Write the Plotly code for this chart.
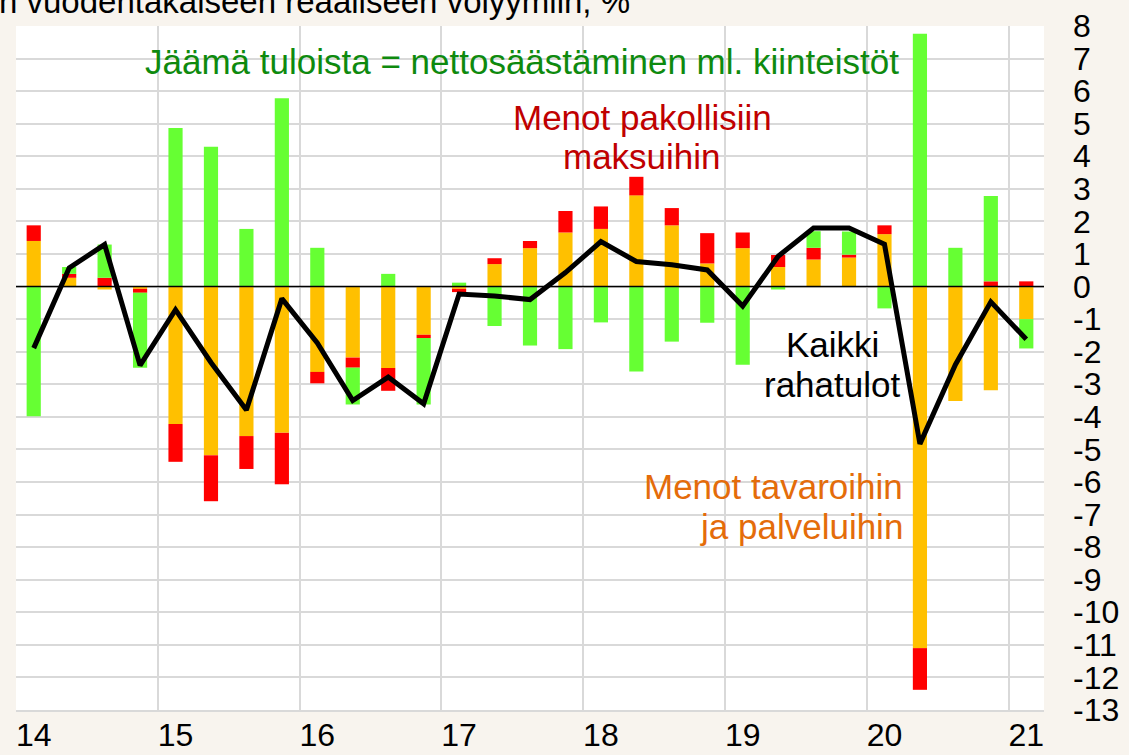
import plotly.graph_objects as go

quarters = ["2014Q1","2014Q2","2014Q3","2014Q4","2015Q1","2015Q2","2015Q3","2015Q4",
            "2016Q1","2016Q2","2016Q3","2016Q4","2017Q1","2017Q2","2017Q3","2017Q4",
            "2018Q1","2018Q2","2018Q3","2018Q4","2019Q1","2019Q2","2019Q3","2019Q4",
            "2020Q1","2020Q2","2020Q3","2020Q4","2021Q1"]

goods_services = [1.40, 0.27, -0.09, -0.07, -4.22, -5.18, -4.59, -4.49,
                  -2.62, -2.18, -2.50, -1.48, -0.07, 0.69, 1.18, 1.66,
                  1.77, 2.80, 1.88, 0.71, 1.18, 0.60, 0.83, 0.89,
                  1.61, -11.10, -3.51, -3.18, -1.00]
mandatory_payments = [0.48, 0.12, 0.27, -0.12, -1.16, -1.41, -1.01, -1.58,
                      -0.35, -0.31, -0.70, -0.10, -0.10, 0.18, 0.22, 0.66,
                      0.69, 0.57, 0.53, 0.93, 0.48, 0.37, 0.36, 0.09,
                      0.27, -1.28, 0.00, 0.16, 0.16]
net_saving = [-3.98, 0.21, 1.02, -2.30, 4.87, 4.29, 1.77, 5.78,
              1.19, -1.13, 0.39, -2.04, 0.12, -1.21, -1.81, -1.92,
              -1.10, -2.61, -1.69, -1.11, -2.40, -0.09, 0.51, 0.71,
              -0.67, 7.76, 1.19, 2.62, -0.90]
total_income = [-1.89, 0.57, 1.29, -2.42, -0.71, -2.33, -3.79, -0.37,
                -1.73, -3.50, -2.78, -3.60, -0.23, -0.29, -0.40, 0.43,
                1.38, 0.77, 0.67, 0.51, -0.60, 0.93, 1.80, 1.80,
                1.30, -4.83, -2.40, -0.47, -1.62]

year_labels = ["14", "15", "16", "17", "18", "19", "20", "21"]
y_ticks = list(range(-13, 9))
y_ticktext = [str(v) for v in y_ticks]

x = list(range(len(quarters)))
FONT = "Liberation Sans, Arial, sans-serif"

fig = go.Figure()
fig.add_trace(go.Bar(x=x, y=goods_services, marker_color="#FFC000", width=0.4,
                     marker_line_width=0, name="Menot tavaroihin ja palveluihin"))
fig.add_trace(go.Bar(x=x, y=mandatory_payments, marker_color="#FF0000", width=0.4,
                     marker_line_width=0, name="Menot pakollisiin maksuihin"))
fig.add_trace(go.Bar(x=x, y=net_saving, marker_color="#66FF33", width=0.4,
                     marker_line_width=0, name="Jäämä tuloista"))
fig.add_trace(go.Scatter(x=x, y=total_income, mode="lines",
                         line=dict(color="black", width=5), name="Kaikki rahatulot"))

fig.add_hline(y=0, line_color="black", line_width=1.5, layer="above")

ann_font = dict(family=FONT, size=35)
labels = [
    (13.78, 6.91, "Jäämä tuloista = nettosäästäminen ml. kiinteistöt", "#0E8A0E", "center"),
    (17.17, 5.19, "Menot pakollisiin", "#C00000", "center"),
    (17.17, 3.99, "maksuihin", "#C00000", "center"),
    (22.53, -1.78, "Kaikki", "black", "center"),
    (22.53, -3.01, "rahatulot", "black", "center"),
    (24.59, -6.14, "Menot tavaroihin", "#E46C0A", "right"),
    (24.59, -7.37, "ja palveluihin", "#E46C0A", "right"),
]
for lx, ly, txt, col, anc in labels:
    fig.add_annotation(x=lx, y=ly, text=txt, xanchor=anc, showarrow=False,
                       font=dict(ann_font, color=col))

fig.add_annotation(xref="paper", yref="paper", x=(632 - 16) / 1028, y=1 + 26 / 684,
                   xanchor="right", yanchor="middle", yshift=-1,
                   text="Vaikutus KT:n vuodentakaiseen reaaliseen volyymiin, %",
                   showarrow=False, font=dict(family=FONT, size=33, color="black"))

fig.update_layout(
    width=1129, height=755,
    margin=dict(l=16, r=85, t=26, b=45),
    paper_bgcolor="#F8F4EE", plot_bgcolor="white",
    barmode="relative", showlegend=False,
    font=dict(family=FONT, size=32, color="black"),
    xaxis=dict(range=[-0.5, len(quarters) - 0.5], tickvals=x[::4], ticktext=year_labels,
               showgrid=False, zeroline=False, ticks="", ticklabelstandoff=-4,
               automargin=False,
               minor=dict(tick0=-0.5, dtick=4, showgrid=True, gridcolor="#D9D9D9", gridwidth=2),
               showline=True, linecolor="#D9D9D9", linewidth=2),
    yaxis=dict(range=[-13, 8], tickvals=y_ticks, ticktext=y_ticktext, side="right",
               showgrid=True, gridcolor="#D9D9D9", gridwidth=2, zeroline=False, ticks="",
               ticklabelstandoff=28, automargin=False),
)

fig.write_html("out.html", post_script="document.body.style.margin='0';",
               config={"displayModeBar": False})
